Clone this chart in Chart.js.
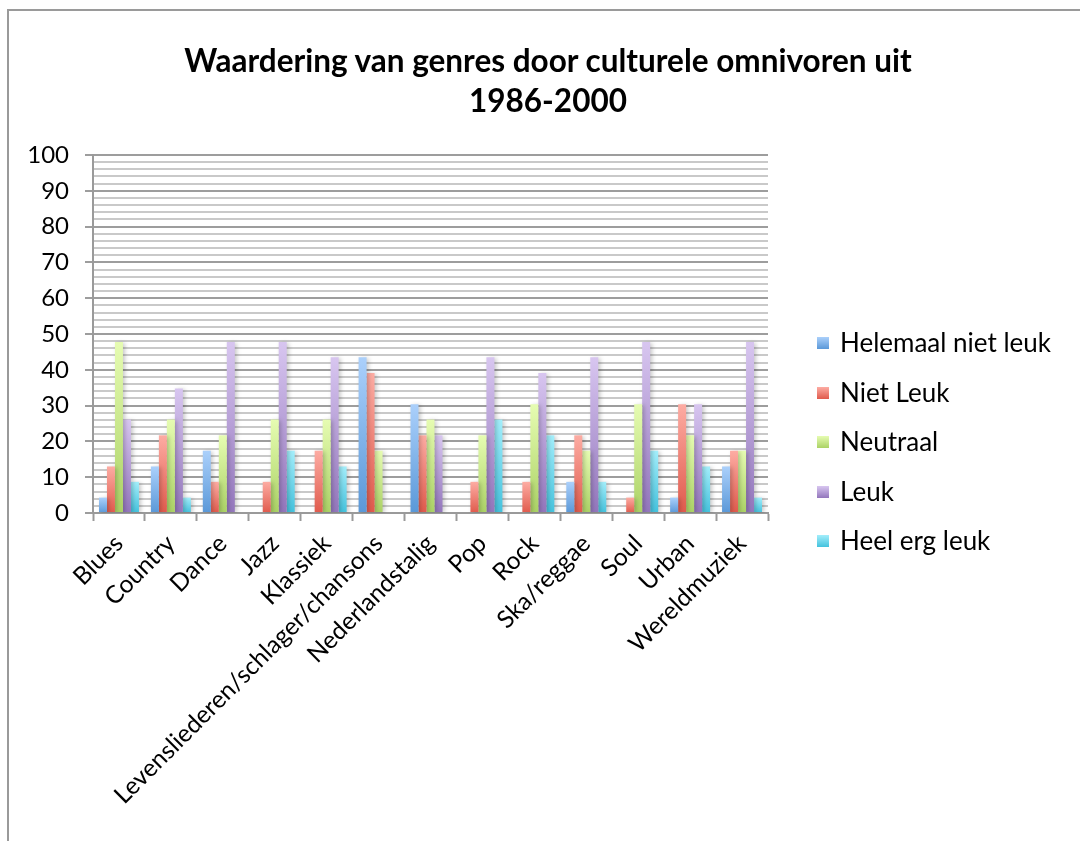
<!DOCTYPE html>
<html lang="nl">
<head>
    <meta charset="UTF-8">
    <title>Waardering van genres door culturele omnivoren uit 1986-2000</title>
    <script src="https://cdn.jsdelivr.net/npm/chart.js"></script>
    <style>
        body { margin: 0; background: #fff; font-family: Lato, sans-serif; }
        .frame { position: absolute; left: 7px; top: 9px; width: 1200px; height: 900px;
                 border-top: 2px solid #9a9a9a; border-left: 2px solid #9a9a9a; }
        .title { position: absolute; left: 16px; width: 1064px; top: 40px; text-align: center;
                 font-weight: bold; font-size: 31.5px; line-height: 40px; color: #000; }
        .legend { position: absolute; left: 817px; top: 318px; font-size: 26px; color: #000; }
        .legend div { height: 49.5px; line-height: 49.5px; white-space: nowrap; }
        .legend span.box { display: inline-block; width: 12px; height: 12px; margin-right: 11px;
                           vertical-align: middle; position: relative; top: -2px; }
        .wrap { position: absolute; left: 0; top: 0; width: 1080px; height: 841px; }
    </style>
</head>
<body>
    <div class="frame"></div>
    <div class="wrap"><canvas id="chart"></canvas></div>
    <div class="title">Waardering van genres door culturele omnivoren uit<br>1986-2000</div>
    <div class="legend" id="legend"></div>

    <script>
        const genres = ["Blues", "Country", "Dance", "Jazz", "Klassiek", "Levensliederen/schlager/chansons",
            "Nederlandstalig", "Pop", "Rock", "Ska/reggae", "Soul", "Urban", "Wereldmuziek"];
        const seriesNames = ["Helemaal niet leuk", "Niet Leuk", "Neutraal", "Leuk", "Heel erg leuk"];

        const helemaalNietLeuk = [4.3, 13, 17.4, 0, 0, 43.5, 30.4, 0, 0, 8.7, 0, 4.3, 13];
        const nietLeuk = [13, 21.7, 8.7, 8.7, 17.4, 39.1, 21.7, 8.7, 8.7, 21.7, 4.3, 30.4, 17.4];
        const neutraal = [47.8, 26.1, 21.7, 26.1, 26.1, 17.4, 26.1, 21.7, 30.4, 17.4, 30.4, 21.7, 17.4];
        const leuk = [26.1, 34.8, 47.8, 47.8, 43.5, 0, 21.7, 43.5, 39.1, 43.5, 47.8, 30.4, 47.8];
        const heelErgLeuk = [8.7, 4.3, 0, 17.4, 13, 0, 0, 26.1, 21.7, 8.7, 17.4, 13, 4.3];

        const yTicks = [0, 10, 20, 30, 40, 50, 60, 70, 80, 90, 100];

        // gradient colours, light at the top, darker at the bottom
        const topColors = ["#abd0fb", "#fdaca3", "#e6fcb2", "#d8c6f0", "#a3eefb"];
        const bottomColors = ["#5a98d8", "#e05a4c", "#abd265", "#9376bc", "#44c2dd"];

        const allSeries = [helemaalNietLeuk, nietLeuk, neutraal, leuk, heelErgLeuk];

        function barGradient(i) {
            return function (c) {
                const chart = c.chart;
                const area = chart.chartArea;
                if (!area || c.raw === undefined) return bottomColors[i];
                const y = chart.scales.y.getPixelForValue(c.raw);
                if (!(area.bottom - y > 1)) return bottomColors[i];
                const g = chart.ctx.createLinearGradient(0, y, 0, area.bottom);
                g.addColorStop(0, topColors[i]);
                g.addColorStop(1, bottomColors[i]);
                return g;
            };
        }

        const datasets = seriesNames.map((name, i) => ({
            label: name,
            data: allSeries[i],
            backgroundColor: barGradient(i),
            borderWidth: 0,
            categoryPercentage: 0.77,
            barPercentage: 1.0
        }));

        // legend built from the series names
        const legend = document.getElementById("legend");
        seriesNames.forEach((name, i) => {
            const row = document.createElement("div");
            const box = document.createElement("span");
            box.className = "box";
            box.style.background = `linear-gradient(${topColors[i]}, ${bottomColors[i]})`;
            row.appendChild(box);
            row.appendChild(document.createTextNode(name));
            legend.appendChild(row);
        });

        const barShadow = {
            id: "barShadow",
            beforeDatasetsDraw(chart) {
                const ctx = chart.ctx;
                ctx.save();
                ctx.shadowColor = "rgba(0,0,0,0.22)";
                ctx.shadowBlur = 4;
                ctx.shadowOffsetX = 2;
                ctx.shadowOffsetY = 1;
            },
            afterDatasetsDraw(chart) {
                chart.ctx.restore();
            }
        };

        Chart.defaults.font.family = "Lato, sans-serif";
        Chart.defaults.color = "#000";

        new Chart(document.getElementById("chart"), {
            type: "bar",
            data: { labels: genres, datasets: datasets },
            plugins: [barShadow],
            options: {
                responsive: true,
                maintainAspectRatio: false,
                animation: false,
                layout: { padding: { top: 155, right: 312, bottom: 0, left: 0 } },
                plugins: {
                    legend: { display: false },
                    title: { display: false },
                    tooltip: { enabled: false }
                },
                scales: {
                    x: {
                        grid: {
                            offset: true,
                            drawOnChartArea: false,
                            tickLength: 8,
                            tickWidth: 2,
                            tickColor: "#9a9a9a"
                        },
                        border: { color: "#9a9a9a", width: 2 },
                        ticks: {
                            minRotation: 45,
                            maxRotation: 45,
                            autoSkip: false,
                            padding: 8,
                            font: { size: 24.5 }
                        },
                        afterFit(scale) { scale.height = 328; }
                    },
                    y: {
                        min: 0,
                        max: 100,
                        ticks: {
                            stepSize: 2,
                            autoSkip: false,
                            padding: 16,
                            font: { size: 24 },
                            callback: (v) => yTicks.includes(v) ? v : ""
                        },
                        grid: {
                            lineWidth: 2,
                            color: (c) => yTicks.includes(c.tick.value) ? "#9d9d9d" : "#c9c9c9",
                            tickColor: (c) => yTicks.includes(c.tick.value) ? "#9d9d9d" : "rgba(0,0,0,0)",
                            tickLength: 8
                        },
                        border: { color: "#9a9a9a", width: 2 },
                        afterFit(scale) { scale.width = 93; }
                    }
                }
            }
        });
    </script>
</body>
</html>
